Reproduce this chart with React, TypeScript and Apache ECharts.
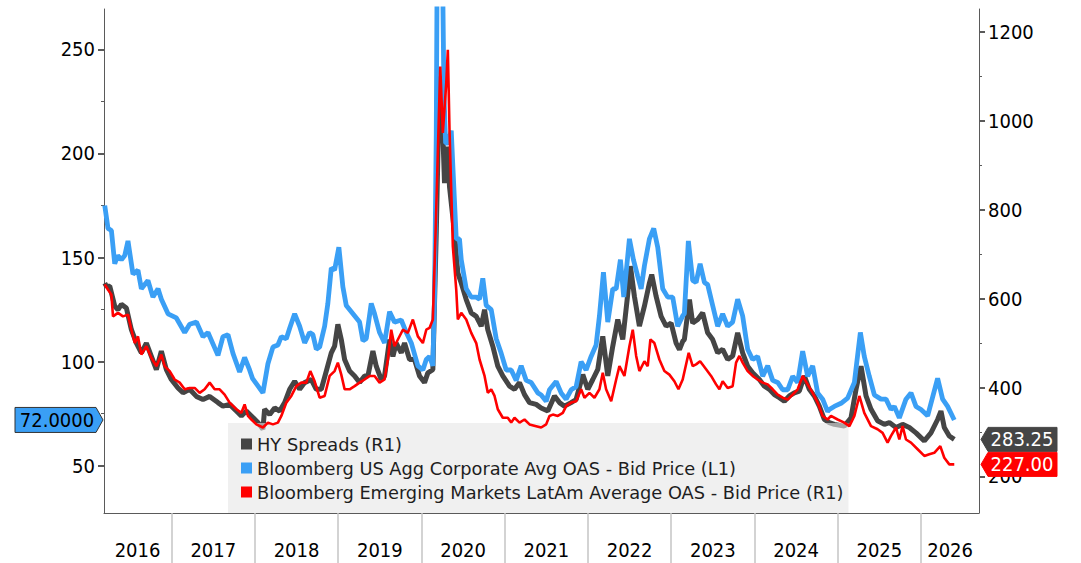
import { useEffect, useRef } from 'react';
import * as echarts from 'echarts';

// ---------- DATA (decimal years, values) ----------
const hyDates = [
  2016.196, 2016.216, 2016.256, 2016.316, 2016.355, 2016.396, 2016.456, 2016.516, 2016.576, 2016.636, 2016.696, 2016.756, 2016.816, 2016.876, 2016.936, 2016.996,
  2017.076, 2017.136, 2017.216, 2017.297, 2017.376, 2017.456, 2017.556, 2017.616, 2017.696, 2017.777, 2017.837, 2017.897, 2017.957,
  2018.036, 2018.096, 2018.116, 2018.177, 2018.237, 2018.297, 2018.357, 2018.417, 2018.477, 2018.537, 2018.597, 2018.677, 2018.737, 2018.797, 2018.857, 2018.917, 2018.957, 2018.996,
  2019.037, 2019.077, 2019.137, 2019.197, 2019.257, 2019.317, 2019.357, 2019.417, 2019.457, 2019.517, 2019.557, 2019.617, 2019.657, 2019.697, 2019.758, 2019.797, 2019.857, 2019.917, 2019.977,
  2020.037, 2020.077, 2020.137, 2020.178, 2020.217, 2020.257, 2020.277, 2020.317, 2020.337, 2020.397, 2020.437, 2020.478, 2020.538, 2020.598, 2020.658, 2020.718, 2020.758, 2020.797, 2020.857, 2020.917, 2020.977,
  2021.058, 2021.118, 2021.178, 2021.238, 2021.298, 2021.378, 2021.438, 2021.518, 2021.598, 2021.658, 2021.718, 2021.798, 2021.858, 2021.938, 2021.998,
  2022.058, 2022.118, 2022.178, 2022.238, 2022.298, 2022.358, 2022.418, 2022.471, 2022.510, 2022.558, 2022.618, 2022.678, 2022.738, 2022.766, 2022.819, 2022.879, 2022.939, 2022.999,
  2023.059, 2023.099, 2023.138, 2023.158, 2023.219, 2023.258, 2023.318, 2023.378, 2023.438, 2023.498, 2023.558, 2023.618, 2023.678, 2023.738, 2023.798, 2023.858, 2023.918, 2023.978,
  2024.059, 2024.119, 2024.179, 2024.239, 2024.299, 2024.359, 2024.419, 2024.479, 2024.539, 2024.599, 2024.659, 2024.719, 2024.779, 2024.839, 2024.899, 2024.959,
  2025.079, 2025.160, 2025.220, 2025.280, 2025.340, 2025.400, 2025.479, 2025.560, 2025.620, 2025.700, 2025.779, 2025.860, 2025.940,
  2026.040, 2026.120, 2026.200, 2026.240, 2026.280, 2026.340, 2026.400,
];
const hyValues = [
  635, 628, 628, 583, 575, 587, 579, 530, 500, 478, 500, 470, 440, 482, 440, 418,
  399, 388, 396, 380, 373, 380, 366, 358, 362, 347, 336, 347, 336,
  321, 306, 351, 339, 354, 347, 366, 396, 414, 396, 411, 418, 396, 396, 437, 478, 493, 542,
  508, 463, 437, 426, 411, 426, 426, 482, 448, 418, 426, 508, 470, 500, 478, 500, 463, 463, 426,
  411, 433, 440, 748, 1100, 973, 860, 942, 852, 748, 658, 635, 598, 568, 560, 538, 575, 530, 493, 448, 426,
  403, 396, 411, 384, 366, 362, 354, 347, 381, 366, 358, 366, 373, 429, 396,
  418, 441, 515, 426, 493, 553, 508, 598, 673, 605, 538, 583, 635, 654, 605, 560, 538, 545,
  500, 485, 504, 508, 598, 545, 553, 568, 523, 508, 478, 486, 463, 471, 523, 478, 448, 433,
  418, 403, 396, 384, 377, 369, 381, 388, 392, 426, 396, 381, 358, 328, 321, 317,
  313, 332, 396, 448, 381, 351, 325, 317, 321, 310, 317, 310, 298,
  280, 298, 328, 347, 310, 291, 283.25,
];

const aggDates = [
  2016.196, 2016.235, 2016.276, 2016.316, 2016.352, 2016.396, 2016.436, 2016.475, 2016.535, 2016.595, 2016.636, 2016.715, 2016.775, 2016.836, 2016.876, 2016.956,
  2017.056, 2017.156, 2017.216, 2017.297, 2017.376, 2017.436, 2017.556, 2017.616, 2017.676, 2017.736, 2017.816, 2017.876, 2017.936, 2017.970,
  2018.096, 2018.156, 2018.216, 2018.276, 2018.317, 2018.377, 2018.417, 2018.477, 2018.537, 2018.597, 2018.657, 2018.696, 2018.737, 2018.777, 2018.837, 2018.876, 2018.917, 2018.957,
  2019.008, 2019.056, 2019.097, 2019.177, 2019.257, 2019.297, 2019.337, 2019.397, 2019.437, 2019.497, 2019.557, 2019.617, 2019.677, 2019.757, 2019.818, 2019.878, 2019.957,
  2020.017, 2020.058, 2020.097, 2020.137, 2020.157, 2020.178, 2020.190, 2020.215, 2020.250, 2020.270, 2020.290, 2020.317, 2020.358, 2020.377, 2020.418, 2020.457, 2020.478, 2020.538, 2020.598, 2020.658, 2020.698, 2020.737, 2020.778, 2020.838, 2020.898, 2020.958,
  2021.018, 2021.078, 2021.138, 2021.198, 2021.258, 2021.318, 2021.398, 2021.438, 2021.498, 2021.538, 2021.618, 2021.678, 2021.738, 2021.798, 2021.858, 2021.918, 2021.978,
  2022.038, 2022.098, 2022.138, 2022.186, 2022.238, 2022.298, 2022.339, 2022.390, 2022.430, 2022.498, 2022.546, 2022.598, 2022.639, 2022.678, 2022.738, 2022.790, 2022.838, 2022.898, 2022.958,
  2023.018, 2023.078, 2023.138, 2023.158, 2023.206, 2023.258, 2023.299, 2023.347, 2023.399, 2023.438, 2023.498, 2023.558, 2023.618, 2023.678, 2023.738, 2023.798, 2023.858, 2023.918, 2023.978,
  2024.038, 2024.099, 2024.159, 2024.219, 2024.279, 2024.339, 2024.399, 2024.459, 2024.519, 2024.579, 2024.639, 2024.699, 2024.759, 2024.819, 2024.879, 2024.899, 2024.959,
  2025.040, 2025.119, 2025.200, 2025.272, 2025.319, 2025.379, 2025.440, 2025.520, 2025.580, 2025.640, 2025.680, 2025.740, 2025.820, 2025.880, 2025.940,
  2026.000, 2026.080, 2026.140, 2026.200, 2026.260, 2026.320, 2026.400,
];
const aggValues = [
  175, 164, 163, 147, 151, 149, 151, 158, 142, 144, 135, 139, 131, 135, 130, 123,
  121, 114, 118, 119, 112, 114, 103, 112, 113, 104, 95, 102, 96, 92,
  85, 99, 107, 108, 112, 111, 116, 123, 117, 109, 114, 113, 106, 107, 117, 128, 145, 144,
  155, 136, 127, 123, 119, 110, 111, 128, 123, 114, 109, 124, 119, 120, 114, 109, 98,
  96, 101, 102.5, 98, 130, 210, 300, 373, 300, 230, 205, 205, 211, 194, 159, 159, 149, 135, 131, 131, 130, 140, 127, 125, 111, 104,
  96, 96, 91, 98, 91, 90, 85, 84, 81, 86.5, 90.5, 85, 82, 86.5, 88, 100, 96,
  102.5, 108, 122, 143, 119, 135, 135, 149, 131, 159, 149, 141, 135, 146, 159, 164, 155, 135, 131,
  131, 117, 122, 123, 158, 139, 138, 147, 138, 137, 127, 117, 123, 117, 119, 130, 122, 106, 101,
  102.5, 93, 98, 91, 90, 86.5, 86.5, 93, 90, 105, 93, 98, 85, 82, 76, 77, 78.5,
  80, 82.5, 90, 114, 102.5, 93, 84, 82, 82, 77, 78.5, 73, 82, 85, 78.5,
  77, 74, 83, 92, 82, 78.5, 72,
];

const latamDates = [
  2016.196, 2016.235, 2016.276, 2016.295, 2016.355, 2016.415, 2016.475, 2016.516, 2016.556, 2016.595, 2016.636, 2016.696, 2016.756, 2016.816, 2016.876, 2016.916, 2016.976,
  2017.036, 2017.096, 2017.156, 2017.216, 2017.276, 2017.336, 2017.396, 2017.456, 2017.516, 2017.576, 2017.636, 2017.696, 2017.777, 2017.837, 2017.876, 2017.916, 2017.957,
  2018.017, 2018.096, 2018.156, 2018.216, 2018.276, 2018.317, 2018.377, 2018.437, 2018.497, 2018.557, 2018.617, 2018.665, 2018.717, 2018.777, 2018.837, 2018.897, 2018.957, 2018.996,
  2019.037, 2019.077, 2019.137, 2019.197, 2019.257, 2019.317, 2019.377, 2019.437, 2019.497, 2019.557, 2019.597, 2019.637, 2019.677, 2019.717, 2019.777, 2019.837, 2019.897, 2019.957,
  2020.017, 2020.058, 2020.097, 2020.137, 2020.170, 2020.226, 2020.257, 2020.298, 2020.317, 2020.337, 2020.377, 2020.418, 2020.437, 2020.478, 2020.538, 2020.598, 2020.658, 2020.698, 2020.758, 2020.797, 2020.838, 2020.878, 2020.917, 2020.977,
  2021.037, 2021.078, 2021.118, 2021.178, 2021.238, 2021.298, 2021.378, 2021.438, 2021.498, 2021.538, 2021.578, 2021.638, 2021.698, 2021.738, 2021.798, 2021.858, 2021.918, 2021.958,
  2022.018, 2022.078, 2022.138, 2022.178, 2022.218, 2022.279, 2022.339, 2022.378, 2022.438, 2022.498, 2022.538, 2022.579, 2022.618, 2022.678, 2022.718, 2022.750, 2022.798, 2022.858, 2022.918, 2022.978,
  2023.038, 2023.087, 2023.138, 2023.210, 2023.258, 2023.299, 2023.347, 2023.419, 2023.479, 2023.539, 2023.579, 2023.618, 2023.678, 2023.738, 2023.779, 2023.819, 2023.858, 2023.918, 2023.978,
  2024.038, 2024.099, 2024.159, 2024.219, 2024.279, 2024.339, 2024.399, 2024.459, 2024.519, 2024.579, 2024.639, 2024.699, 2024.759, 2024.819, 2024.879, 2024.919, 2024.999,
  2025.079, 2025.140, 2025.200, 2025.260, 2025.319, 2025.400, 2025.479, 2025.539, 2025.599, 2025.640, 2025.700, 2025.740, 2025.779, 2025.820, 2025.880, 2025.960,
  2026.040, 2026.100, 2026.160, 2026.232, 2026.280, 2026.340, 2026.400,
];
const latamValues = [
  632, 620, 609, 560, 568, 560, 564, 530, 500, 515, 474, 493, 467, 448, 474, 448, 437,
  418, 411, 396, 399, 399, 388, 396, 411, 396, 396, 384, 366, 351, 343, 362, 336, 328,
  317, 310, 321, 317, 321, 336, 366, 381, 403, 411, 411, 437, 414, 377, 381, 426, 437, 456,
  429, 396, 396, 403, 411, 418, 426, 426, 411, 418, 463, 530, 493, 508, 530, 523, 553, 515,
  500, 530, 534, 553, 750, 1122, 973, 1085, 1160, 980, 718, 620, 553, 568, 553, 523, 500, 463, 426, 388, 396, 381, 351, 332,
  332, 321, 332, 321, 328, 317, 313, 310, 317, 336, 339, 336, 343, 358, 366, 369, 396, 377,
  388, 377, 396, 433, 396, 369, 418, 448, 426, 493, 530, 471, 437, 459, 448, 508, 500, 463, 437, 429,
  414, 396, 418, 478, 448, 452, 459, 441, 426, 407, 396, 414, 399, 403, 456, 471, 456, 437, 426,
  418, 411, 407, 396, 384, 377, 373, 384, 396, 426, 407, 388, 366, 336, 328, 336, 328,
  321, 313, 336, 381, 343, 313, 306, 298, 276, 291, 310, 283, 313, 283, 276, 261,
  246, 250, 253, 268, 242, 227, 227,
];

const seriesNames = [
  'HY Spreads (R1)',
  'Bloomberg US Agg Corporate Avg OAS - Bid Price (L1)',
  'Bloomberg Emerging Markets LatAm Average OAS - Bid Price (R1)',
];
const leftTicks = [50, 100, 150, 200, 250];
const leftMinorTicks = [75, 125, 175, 225];
const rightTicks = [200, 400, 600, 800, 1000, 1200];
const rightMinorTicks = [300, 500, 700, 900, 1100];
const yearBoundaries = [2017, 2018, 2019, 2020, 2021, 2022, 2023, 2024, 2025, 2026];
const yearLabelPositions = [2016.59, 2017.5, 2018.5, 2019.5, 2020.5, 2021.5, 2022.5, 2023.5, 2024.5, 2025.5, 2026.35];

const X_MIN = 2016.187;
const X_MAX = 2026.697;
const L_MIN = 27.3;
const L_MAX = 269.4;
const R_MIN = 117.6;
const R_MAX = 1251.7;

const FONT = '"DejaVu Sans Condensed", "Liberation Sans", sans-serif';
const LEGEND_FONT = '"DejaVu Sans", "Liberation Sans", sans-serif';
const BLUE = '#3a9ff5';
const DARK = '#454545';
const RED = '#ff0000';
const AXIS = '#5a5a5a';

const zip = (d: number[], v: number[]) => d.map((x, i) => [x, v[i]]);

export default function App() {
  const ref = useRef<HTMLDivElement>(null);

  useEffect(() => {
    if (!ref.current) return;
    const chart = echarts.init(ref.current, null, { renderer: 'svg' });

    const yAxisBase = (side: 'left' | 'right', min: number, max: number) => ({
      type: 'value' as const,
      position: side,
      min,
      max,
      splitLine: { show: false },
    });

    const option: any = {
      animation: false,
      backgroundColor: '#ffffff',
      grid: { left: 104, right: 102, top: 9, bottom: 50, containLabel: false, outerBoundsMode: 'none' },
      legend: {
        data: seriesNames,
        orient: 'vertical',
        left: 228,
        top: 423,
        padding: [12, 5, 12, 13],
        itemGap: 6,
        itemWidth: 11,
        itemHeight: 11,
        icon: 'rect',
        selectedMode: false,
        backgroundColor: 'rgba(230,230,230,0.6)',
        textStyle: { fontSize: 17.8, lineHeight: 18, color: '#1e1e1e', fontFamily: LEGEND_FONT },
      },
      xAxis: {
        type: 'value',
        min: X_MIN,
        max: X_MAX,
        splitLine: { show: false },
        axisLine: { show: true, lineStyle: { color: AXIS, width: 1 } },
        axisTick: {
          show: true,
          customValues: yearBoundaries,
          length: 50,
          lineStyle: { color: '#c4c4c4', width: 1.5 },
        },
        axisLabel: {
          customValues: yearLabelPositions,
          formatter: (v: number) => String(Math.floor(v)),
          fontSize: 20,
          fontFamily: FONT,
          color: '#000',
          margin: 27,
        },
      },
      yAxis: [
        {
          ...yAxisBase('left', L_MIN, L_MAX),
          axisLine: { show: true, lineStyle: { color: AXIS, width: 1 } },
          axisTick: { show: true, customValues: leftTicks, length: 6, lineStyle: { color: AXIS, width: 2 } },
          axisLabel: {
            customValues: leftTicks,
            formatter: (v: number) => String(v),
            fontSize: 20,
            fontFamily: FONT,
            color: '#000',
            margin: 9,
          },
        },
        {
          ...yAxisBase('right', R_MIN, R_MAX),
          axisLine: { show: true, lineStyle: { color: AXIS, width: 1 } },
          axisTick: { show: true, customValues: rightTicks, length: 6, lineStyle: { color: AXIS, width: 2 } },
          axisLabel: {
            customValues: rightTicks,
            formatter: (v: number) => String(v),
            fontSize: 20,
            fontFamily: FONT,
            color: '#000',
            margin: 9,
          },
        },
        {
          ...yAxisBase('left', L_MIN, L_MAX),
          axisLine: { show: false },
          axisTick: { show: true, customValues: leftMinorTicks, length: 3, lineStyle: { color: AXIS, width: 1 } },
          axisLabel: { show: false },
        },
        {
          ...yAxisBase('right', R_MIN, R_MAX),
          axisLine: { show: false },
          axisTick: { show: true, customValues: rightMinorTicks, length: 3, lineStyle: { color: AXIS, width: 1 } },
          axisLabel: { show: false },
        },
      ],
      series: [
        {
          name: seriesNames[0],
          type: 'line',
          yAxisIndex: 1,
          data: zip(hyDates, hyValues),
          showSymbol: false,
          symbol: 'none',
          clip: true,
          lineStyle: { color: DARK, width: 5 },
          itemStyle: { color: DARK },
          emphasis: { disabled: true },
          z: 2,
        },
        {
          name: seriesNames[1],
          type: 'line',
          yAxisIndex: 0,
          data: zip(aggDates, aggValues),
          showSymbol: false,
          symbol: 'none',
          clip: true,
          lineStyle: { color: BLUE, width: 4.8 },
          itemStyle: { color: BLUE },
          emphasis: { disabled: true },
          z: 3,
        },
        {
          name: seriesNames[2],
          type: 'line',
          yAxisIndex: 1,
          data: zip(latamDates, latamValues),
          showSymbol: false,
          symbol: 'none',
          clip: true,
          lineStyle: { color: RED, width: 2.6 },
          itemStyle: { color: RED },
          emphasis: { disabled: true },
          z: 4,
        },
      ],
    };

    chart.setOption(option);

    const aggLast = aggValues[aggValues.length - 1];
    const hyLast = hyValues[hyValues.length - 1];
    const latLast = latamValues[latamValues.length - 1];
    const yAgg = chart.convertToPixel({ yAxisIndex: 0 }, aggLast) as number;
    const yHy = chart.convertToPixel({ yAxisIndex: 1 }, hyLast) as number;
    const yLat = chart.convertToPixel({ yAxisIndex: 1 }, latLast) as number;

    const leftTag = (y: number, text: string, fill: string, color: string) => [
      {
        type: 'polygon',
        z: 100,
        shape: { points: [[15, y - 12.5], [96, y - 12.5], [103, y], [96, y + 12.5], [15, y + 12.5]] },
        style: { fill, stroke: '#333', lineWidth: 1 },
      },
      {
        type: 'text',
        z: 101,
        x: 57,
        y,
        style: { text, fill: color, font: `20px ${FONT}`, textAlign: 'center', textVerticalAlign: 'middle' },
      },
    ];
    const rightTag = (y: number, text: string, fill: string, color: string) => [
      {
        type: 'polygon',
        z: 100,
        shape: { points: [[981, y], [988, y - 12], [1057, y - 12], [1057, y + 12], [988, y + 12]] },
        style: { fill, stroke: fill, lineWidth: 1 },
      },
      {
        type: 'text',
        z: 101,
        x: 1022,
        y,
        style: { text, fill: color, font: `20px ${FONT}`, textAlign: 'center', textVerticalAlign: 'middle' },
      },
    ];

    chart.setOption({
      graphic: [
        ...leftTag(yAgg, aggLast.toFixed(4), BLUE, '#000'),
        ...rightTag(yHy, hyLast.toFixed(2), DARK, '#fff'),
        ...rightTag(yLat, latLast.toFixed(2), RED, '#fff'),
      ],
    });

    return () => chart.dispose();
  }, []);

  return (
    <div
      ref={ref}
      style={{ position: 'absolute', left: 0, top: 0, width: 1081, height: 563, background: '#fff' }}
    />
  );
}
